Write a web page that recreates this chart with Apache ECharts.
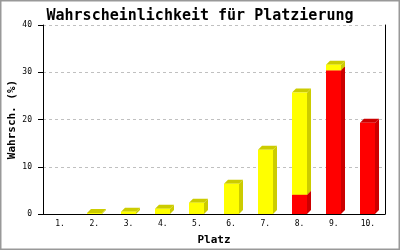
<!DOCTYPE html>
<html>
<head>
<meta charset="utf-8">
<script src="https://cdn.jsdelivr.net/npm/echarts@6/dist/echarts.min.js"></script>
<style>
html,body{margin:0;padding:0;background:#fff;}
#main{width:400px;height:250px;}
</style>
</head>
<body>
<div id="main"></div>
<script>
var categories = ['1.','2.','3.','4.','5.','6.','7.','8.','9.','10.'];
var redValues = [0, 0, 0, 0, 0, 0, 0, 4.1, 30.4, 19.3];
var yellowValues = [0, 0.2, 0.5, 1.1, 2.4, 6.4, 13.6, 21.6, 1.2, 0];
var yTicks = [0, 10, 20, 30, 40];

var redData = categories.map(function (c, i) { return [i, 0, redValues[i]]; });
var yellowData = categories.map(function (c, i) { return [i, redValues[i], redValues[i] + yellowValues[i]]; });

function make3D(front, dark) {
  return function (params, api) {
    var lo = api.value(1), hi = api.value(2);
    if (hi - lo <= 0) return null;
    var pBot = api.coord([api.value(0), lo]);
    var pTop = api.coord([api.value(0), hi]);
    var w = 15, dx = 4, dy = 4;
    var x0 = Math.round(pBot[0] - 7.5);
    var x1 = x0 + w;
    var yb = pBot[1], yt = pTop[1];
    return {
      type: 'group',
      children: [
        { type: 'polygon', shape: { points: [[x1, yb], [x1 + dx, yb - dy], [x1 + dx, yt - dy], [x1, yt]] }, style: { fill: dark } },
        { type: 'polygon', shape: { points: [[x0, yt], [x0 + dx, yt - dy], [x1 + dx, yt - dy], [x1, yt]] }, style: { fill: dark } },
        { type: 'rect', shape: { x: x0, y: yt, width: w, height: yb - yt }, style: { fill: front } }
      ]
    };
  };
}

var chart = echarts.init(document.getElementById('main'));
var mono = 'DejaVu Sans Mono';
chart.setOption({
  animation: false,
  backgroundColor: '#ffffff',
  title: {
    text: 'Wahrscheinlichkeit für Platzierung',
    left: 'center', top: 4,
    textStyle: { fontFamily: mono, fontWeight: 'bold', fontSize: 15, color: '#000' }
  },
  grid: { left: 43, right: 15, top: 25, bottom: 36, outerBoundsMode: 'none', containLabel: false },
  xAxis: {
    type: 'category', data: categories,
    name: 'Platz', nameLocation: 'middle', nameGap: 21, nameMoveOverlap: false,
    nameTextStyle: { fontFamily: mono, fontWeight: 'bold', fontSize: 11, color: '#000' },
    axisLine: { lineStyle: { color: '#000', width: 1 } },
    axisTick: { show: false },
    axisLabel: { fontFamily: mono, fontSize: 8, color: '#000', margin: 6 }
  },
  yAxis: [{
    type: 'value', min: 0, max: 40, interval: 10,
    name: 'Wahrsch. (%)', nameLocation: 'middle', nameGap: 25, nameRotate: 90, nameMoveOverlap: false,
    nameTextStyle: { fontFamily: mono, fontWeight: 'bold', fontSize: 11, color: '#000' },
    axisLine: { show: true, lineStyle: { color: '#000', width: 1 } },
    axisTick: { show: true, length: 5, lineStyle: { color: '#000' } },
    axisLabel: { fontFamily: mono, fontSize: 8, color: '#000', margin: 11,
      formatter: function (v) { return yTicks.indexOf(v) >= 0 ? String(v) : ''; } },
    splitLine: { show: true, lineStyle: { color: '#c0c0c0', type: [3, 3] } }
  }, {
    type: 'value', min: 0, max: 40, interval: 10, position: 'right',
    axisLine: { show: true, lineStyle: { color: '#000', width: 1 } },
    axisTick: { show: false }, axisLabel: { show: false }, splitLine: { show: false }
  }],
  graphic: [{
    type: 'rect', shape: { x: 0.5, y: 0.5, width: 399, height: 249 },
    style: { fill: null, stroke: '#999999', lineWidth: 2 }, z: 100
  }],
  series: [
    { type: 'custom', name: 'rot', renderItem: make3D('#ff0000', '#cc0000'), data: redData, encode: { x: 0, y: [1, 2] } },
    { type: 'custom', name: 'gelb', renderItem: make3D('#ffff00', '#cccc00'), data: yellowData, encode: { x: 0, y: [1, 2] } }
  ]
});
</script>
</body>
</html>
